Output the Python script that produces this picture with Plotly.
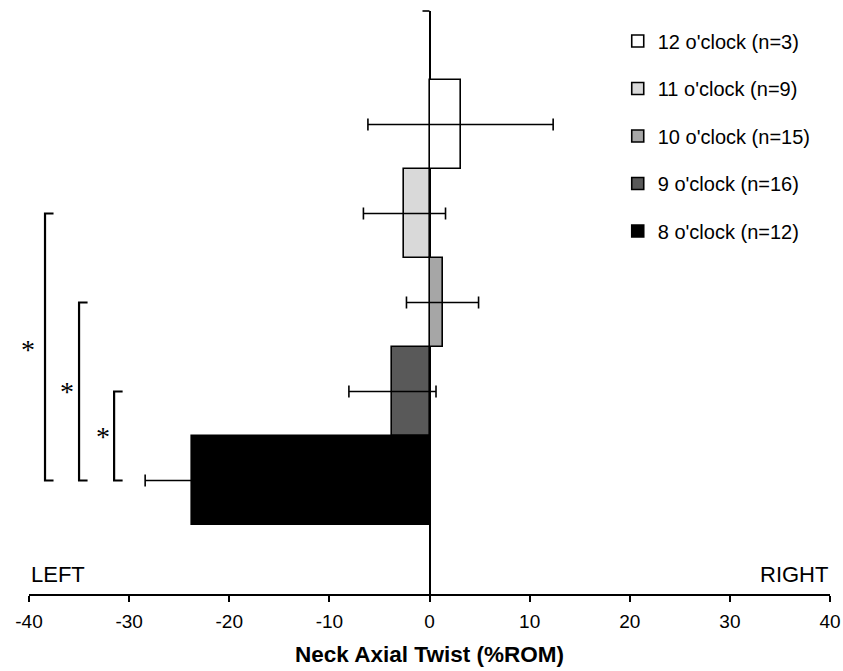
import plotly.graph_objects as go

# ---- data ----
categories = ["12 o'clock", "11 o'clock", "10 o'clock", "9 o'clock", "8 o'clock"]
legend_labels = ["12 o'clock (n=3)", "11 o'clock (n=9)", "10 o'clock (n=15)",
                 "9 o'clock (n=16)", "8 o'clock (n=12)"]
means = [3.1, -2.5, 1.3, -3.7, -23.7]
err_plus = [9.25, 4.1, 3.6, 4.35, 0.0]
err_minus = [9.25, 4.1, 3.6, 4.35, 4.7]
fill_colors = ["#ffffff", "#d9d9d9", "#a6a6a6", "#595959", "#000000"]

# significance comparisons (group vs 8 o'clock)
comp_from = ["11 o'clock", "10 o'clock", "9 o'clock"]
comp_to = ["8 o'clock", "8 o'clock", "8 o'clock"]
comp_label = ["*", "*", "*"]

x_ticks = [-40, -30, -20, -10, 0, 10, 20, 30, 40]

# ---- layout helpers (positions / styles) ----
bracket_x = [-38.4, -35.0, -31.5]
bracket_cap = 0.85
star_x = [-39.9, -36.2, -32.6]
star_xshift = [-2, 0, 0]
star_yshift = [-2, 0, 0]

cat_order = categories[::-1]  # bottom to top
idx = {c: i for i, c in enumerate(cat_order)}

FONT = "Liberation Sans, Arial, sans-serif"

fig = go.Figure()
for i, c in enumerate(categories):
    fig.add_trace(go.Bar(
        y=[c], x=[means[i]], orientation="h", name=legend_labels[i],
        legendgroup="g%d" % i, width=1.0,
        marker=dict(color=fill_colors[i], line=dict(color="#000000", width=1.6)),
        error_x=dict(type="data", symmetric=False, array=[err_plus[i]],
                     arrayminus=[err_minus[i]], color="#000000",
                     thickness=1.6, width=6),
    ))

shapes = []
annotations = []
for k in range(len(comp_from)):
    y0 = idx[comp_from[k]]
    y1 = idx[comp_to[k]]
    bx = bracket_x[k]
    shapes.append(dict(
        type="path", xref="x", yref="y",
        path="M %f,%f L %f,%f L %f,%f L %f,%f" % (bx + bracket_cap, y0, bx, y0, bx, y1, bx + bracket_cap, y1),
        line=dict(color="#000000", width=2.2)))
    annotations.append(dict(
        x=star_x[k], y=(y0 + y1) / 2, xref="x", yref="y", text=comp_label[k],
        showarrow=False, xanchor="center", yanchor="middle",
        yshift=star_yshift[k], xshift=star_xshift[k],
        font=dict(family="Liberation Serif, Times New Roman, serif", size=28, color="#000000")))

# small tick at the top of the vertical axis
shapes.append(dict(type="line", xref="x", yref="paper", x0=-0.7, x1=0, y0=1, y1=1,
                   line=dict(color="#000000", width=1.6)))

annotations.append(dict(x=-40, y=0.0326, xref="x", yref="paper", text="LEFT",
                        showarrow=False, xanchor="left", yanchor="middle",
                        font=dict(family=FONT, size=22, color="#000000")))
annotations.append(dict(x=40, y=0.0326, xref="x", yref="paper", text="RIGHT",
                        showarrow=False, xanchor="right", yanchor="middle",
                        font=dict(family=FONT, size=22, color="#000000")))

fig.update_layout(
    width=843, height=671,
    margin=dict(l=29, r=13, t=11, b=77, pad=0),
    paper_bgcolor="#ffffff", plot_bgcolor="#ffffff",
    barmode="overlay", bargap=0,
    font=dict(family=FONT, color="#000000", size=19),
    showlegend=True,
    legend=dict(x=0.735, y=0.982, xanchor="left", yanchor="top",
                traceorder="grouped", tracegroupgap=18.5,
                font=dict(family=FONT, size=20, color="#000000"),
                bgcolor="rgba(0,0,0,0)", borderwidth=0),
    xaxis=dict(range=[-40, 40], tickmode="array", tickvals=x_ticks,
               ticktext=[str(v) for v in x_ticks],
               showgrid=False, zeroline=True, zerolinecolor="#000000", zerolinewidth=1.6,
               showline=True, linecolor="#000000", linewidth=1.6,
               ticks="outside", ticklen=6, tickwidth=1.6, tickcolor="#000000",
               ticklabelstandoff=3,
               tickfont=dict(family=FONT, size=19, color="#000000"),
               title=dict(text="<b>Neck Axial Twist (%ROM)</b>", standoff=16,
                          font=dict(family=FONT, size=22.5, color="#000000")),
               automargin=False, fixedrange=True),
    yaxis=dict(type="category", categoryorder="array", categoryarray=cat_order,
               range=[-1.275, 5.275], showgrid=False, zeroline=False,
               showline=False, ticks="", showticklabels=False,
               automargin=False, fixedrange=True),
    shapes=shapes, annotations=annotations,
)

fig.write_html("out.html")
